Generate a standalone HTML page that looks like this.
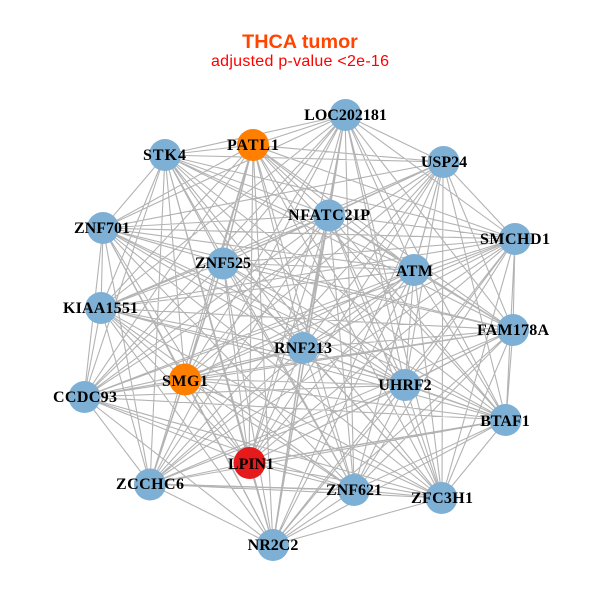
<!DOCTYPE html>
<html><head><meta charset="utf-8"><style>
html,body{margin:0;padding:0;background:#fff}
svg{display:block}
.n{font:bold 16px "Liberation Serif",serif;text-anchor:middle;fill:#000}
</style></head><body>
<svg width="600" height="600" viewBox="0 0 600 600" xmlns="http://www.w3.org/2000/svg">
<rect width="600" height="600" fill="#fff"/>
<path fill="none" stroke="#b3b3b3" stroke-width="1.1" d="
M345 115L253 145M345 115L165 155M345 115L103 228M345 115L223 263M345 115L101 308M345 115L185 379M345 115L84 397M345 115L150 484M345 115L249 463M345 115L273 545M345 115L354 490M345 115L442 498M345 115L506 420M345 115L405 385M345 115L513 330M345 115L414 270M345 115L515 239M345 115L443 162M345 115L329 215M345 115L303 348
M253 145L165 155M253 145L103 228M253 145L223 263M253 145L101 308M253 145L185 379M253 145L84 397M253 145L150 484M253 145L249 463M253 145L273 545M253 145L354 490M253 145L442 498M253 145L506 420M253 145L405 385M253 145L513 330M253 145L414 270M253 145L515 239M253 145L443 162M253 145L329 215M253 145L303 348
M165 155L103 228M165 155L223 263M165 155L101 308M165 155L185 379M165 155L84 397M165 155L150 484M165 155L249 463M165 155L273 545M165 155L354 490M165 155L442 498M165 155L506 420M165 155L405 385M165 155L513 330M165 155L414 270M165 155L515 239M165 155L443 162M165 155L329 215M165 155L303 348
M103 228L223 263M103 228L101 308M103 228L185 379M103 228L84 397M103 228L150 484M103 228L249 463M103 228L273 545M103 228L354 490M103 228L442 498M103 228L506 420M103 228L405 385M103 228L513 330M103 228L414 270M103 228L515 239M103 228L443 162M103 228L329 215M103 228L303 348
M223 263L101 308M223 263L185 379M223 263L84 397M223 263L150 484M223 263L249 463M223 263L273 545M223 263L354 490M223 263L442 498M223 263L506 420M223 263L405 385M223 263L513 330M223 263L414 270M223 263L515 239M223 263L443 162M223 263L329 215M223 263L303 348
M101 308L185 379M101 308L84 397M101 308L150 484M101 308L249 463M101 308L273 545M101 308L354 490M101 308L442 498M101 308L506 420M101 308L405 385M101 308L513 330M101 308L414 270M101 308L515 239M101 308L443 162M101 308L329 215M101 308L303 348
M185 379L84 397M185 379L150 484M185 379L249 463M185 379L273 545M185 379L354 490M185 379L442 498M185 379L506 420M185 379L405 385M185 379L513 330M185 379L414 270M185 379L515 239M185 379L443 162M185 379L329 215M185 379L303 348
M84 397L150 484M84 397L249 463M84 397L273 545M84 397L354 490M84 397L442 498M84 397L506 420M84 397L405 385M84 397L513 330M84 397L414 270M84 397L515 239M84 397L443 162M84 397L329 215M84 397L303 348
M150 484L249 463M150 484L273 545M150 484L354 490M150 484L442 498M150 484L506 420M150 484L405 385M150 484L513 330M150 484L414 270M150 484L515 239M150 484L443 162M150 484L329 215M150 484L303 348
M249 463L273 545M249 463L354 490M249 463L442 498M249 463L506 420M249 463L405 385M249 463L513 330M249 463L414 270M249 463L515 239M249 463L443 162M249 463L329 215M249 463L303 348
M273 545L354 490M273 545L442 498M273 545L506 420M273 545L405 385M273 545L513 330M273 545L414 270M273 545L515 239M273 545L443 162M273 545L329 215M273 545L303 348
M354 490L442 498M354 490L506 420M354 490L405 385M354 490L513 330M354 490L414 270M354 490L515 239M354 490L443 162M354 490L329 215M354 490L303 348
M442 498L506 420M442 498L405 385M442 498L513 330M442 498L414 270M442 498L515 239M442 498L443 162M442 498L329 215M442 498L303 348
M506 420L405 385M506 420L513 330M506 420L414 270M506 420L515 239M506 420L443 162M506 420L329 215M506 420L303 348
M405 385L513 330M405 385L414 270M405 385L515 239M405 385L443 162M405 385L329 215M405 385L303 348
M513 330L414 270M513 330L515 239M513 330L443 162M513 330L329 215M513 330L303 348
M414 270L515 239M414 270L443 162M414 270L329 215M414 270L303 348
M515 239L443 162M515 239L329 215M515 239L303 348
M443 162L329 215M443 162L303 348
M329 215L303 348"/>
<path fill="none" stroke="#b3b3b3" stroke-width="1.4" d="M329 215L303 348M253 145L223 263M223 263L185 379M185 379L150 484M303 348L273 545M150 484L354 490M303 348L185 379M506 420L249 463"/>
<g fill="#7eb0d5">
<circle cx="345.5" cy="115" r="16"/><circle cx="165" cy="155" r="16"/><circle cx="103" cy="228" r="16"/><circle cx="223" cy="263.5" r="16"/><circle cx="101" cy="308" r="16"/><circle cx="84.5" cy="397" r="16"/><circle cx="150" cy="484.5" r="16"/><circle cx="273" cy="545" r="16"/><circle cx="354" cy="490" r="16"/><circle cx="441.5" cy="498" r="16"/><circle cx="505.5" cy="420" r="16"/><circle cx="405" cy="385" r="16"/><circle cx="513" cy="330" r="16"/><circle cx="414" cy="270" r="16"/><circle cx="515" cy="239" r="16"/><circle cx="443.5" cy="162" r="16"/><circle cx="329" cy="215.5" r="16"/><circle cx="303" cy="348" r="16"/>
</g>
<circle cx="253" cy="145" r="16" fill="#ff7f00"/>
<circle cx="185" cy="379.5" r="16" fill="#ff7f00"/>
<circle cx="249.5" cy="463" r="16" fill="#e41a1c"/>
<g>
<text class="n" x="345.5" y="120">LOC202181</text>
<text class="n" x="253" y="150" textLength="52">PATL1</text>
<text class="n" x="164.500" y="160" textLength="43">STK4</text>
<text class="n" x="102" y="233">ZNF701</text>
<text class="n" x="223" y="268">ZNF525</text>
<text class="n" x="100.5" y="313" textLength="75">KIAA1551</text>
<text class="n" x="185" y="386" textLength="46">SMG1</text>
<text class="n" x="85" y="402" textLength="64">CCDC93</text>
<text class="n" x="150" y="489" textLength="68">ZCCHC6</text>
<text class="n" x="251" y="469" textLength="46">LPIN1</text>
<text class="n" x="273" y="550">NR2C2</text>
<text class="n" x="354" y="495">ZNF621</text>
<text class="n" x="442" y="503" textLength="62">ZFC3H1</text>
<text class="n" x="505" y="426">BTAF1</text>
<text class="n" x="405" y="390">UHRF2</text>
<text class="n" x="513" y="335" textLength="72">FAM178A</text>
<text class="n" x="414.500" y="276" textLength="37">ATM</text>
<text class="n" x="515" y="244" textLength="70">SMCHD1</text>
<text class="n" x="444" y="167">USP24</text>
<text class="n" x="329" y="220" textLength="82">NFATC2IP</text>
<text class="n" x="303" y="353" textLength="58">RNF213</text>
</g>
<text x="300" y="48" text-anchor="middle" font-family="Liberation Sans, sans-serif" font-weight="bold" font-size="19.8" fill="#ff4500">THCA tumor</text>
<text x="300" y="66" text-anchor="middle" font-family="Liberation Sans, sans-serif" font-size="16" textLength="178" fill="#ff0000">adjusted p-value &lt;2e-16</text>
</svg>
</body></html>
